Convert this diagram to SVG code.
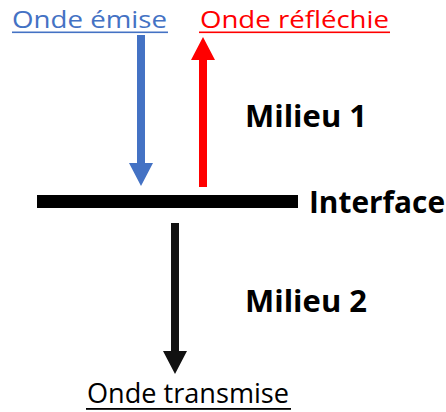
<svg xmlns="http://www.w3.org/2000/svg" width="446" height="412" viewBox="0 0 446 412">
  <style>
    .lbl { font-family: "Open Sans", "Liberation Sans", sans-serif; font-size: 27px; }
    .top { font-size: 24.5px; }
    .bold { font-family: "Open Sans", "Liberation Sans", sans-serif; font-size: 30px; font-weight: bold; fill: #000; }
  </style>
  <rect width="446" height="412" fill="#fff"/>
  <g id="interface">
    <rect x="37" y="195" width="261" height="13" fill="#000"/>
    <text class="bold" x="309" y="213" textLength="136" lengthAdjust="spacingAndGlyphs">Interface</text>
  </g>
  <g id="onde-emise">
    <text class="lbl top" x="12" y="27.5" fill="#4472C4" textLength="155" lengthAdjust="spacingAndGlyphs">Onde émise</text>
    <rect x="12" y="31.5" width="156" height="1.6" fill="#4472C4"/>
  </g>
  <g id="onde-reflechie">
    <text class="lbl top" x="200" y="27.5" fill="#FF0000" textLength="189" lengthAdjust="spacingAndGlyphs">Onde réfléchie</text>
    <rect x="199" y="31.5" width="191" height="1.6" fill="#FF0000"/>
  </g>
  <g id="onde-transmise">
    <text class="lbl" x="87" y="403" fill="#000" textLength="202" lengthAdjust="spacingAndGlyphs">Onde transmise</text>
    <rect x="86" y="408" width="205" height="1.8" fill="#000"/>
  </g>
  <g id="milieu-1">
    <text class="bold" x="245" y="127" textLength="122" lengthAdjust="spacingAndGlyphs">Milieu 1</text>
  </g>
  <g id="milieu-2">
    <text class="bold" x="245" y="312" textLength="122" lengthAdjust="spacingAndGlyphs">Milieu 2</text>
  </g>
  <g id="connectors">
    <path d="M137,35 H145 V163 H153 L141,186 L129,163 H137 Z" fill="#4472C4"/>
    <path d="M199,187 H207 V60 H215 L203,37 L191,60 H199 Z" fill="#FF0000"/>
    <path d="M171,223 H179 V351 H187 L175,374 L163,351 H171 Z" fill="#111"/>
  </g>
</svg>
